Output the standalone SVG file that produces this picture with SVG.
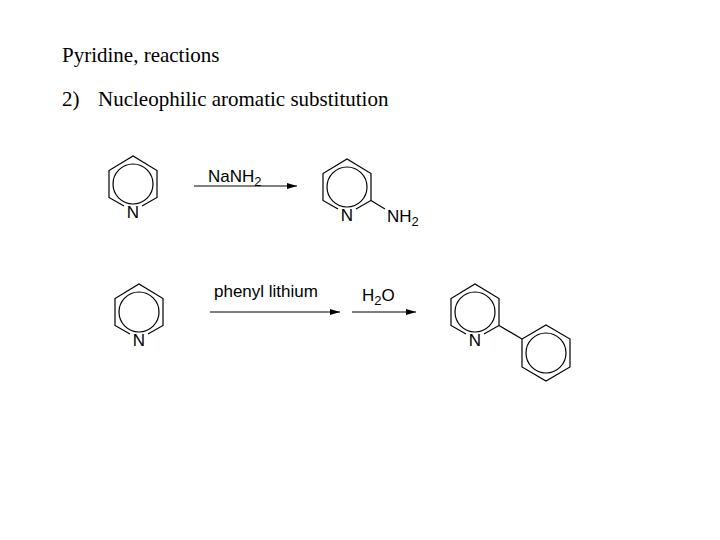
<svg xmlns="http://www.w3.org/2000/svg" width="720" height="540" viewBox="0 0 720 540">
<style>
.t{font-family:"Liberation Serif",serif;font-size:21px;fill:#000}
.l{font-family:"Liberation Sans",sans-serif;font-size:17px;fill:#000}
.b{fill:none;stroke:#000;stroke-width:1.2}
</style>
<defs>
<g id="pyr">
<path class="b" d="M-9,22 L-24,13.5 L-24,-13.5 L0,-28 L24,-13.5 L24,13.5 L9,22"/>
<circle class="b" cx="0" cy="0" r="20"/>
<text class="l" x="0" y="34" text-anchor="middle">N</text>
</g>
<g id="benz">
<path class="b" d="M0,-28 L24,-14 L24,14 L0,28 L-24,14 L-24,-14 Z"/>
<circle class="b" cx="0" cy="0" r="20"/>
</g>
<marker id="ah" markerWidth="10" markerHeight="6" refX="10" refY="3" orient="auto" markerUnits="userSpaceOnUse">
<path d="M0,0 L10,3 L0,6 Z" fill="#000"/>
</marker>
</defs>
<text class="t" x="62" y="62">Pyridine, reactions</text>
<text class="t" x="62" y="106">2)</text>
<text class="t" x="98" y="106">Nucleophilic aromatic substitution</text>
<g id="r1"><use href="#pyr" x="133" y="184"/></g>
<g id="p1"><use href="#pyr" x="347" y="187"/>
<line class="b" x1="371" y1="200.5" x2="385" y2="209"/>
<text class="l" x="387" y="222">NH<tspan font-size="13" dy="4">2</tspan></text></g>
<g id="r2"><use href="#pyr" x="139" y="312"/></g>
<g id="p2"><use href="#pyr" x="475" y="312"/>
<line class="b" x1="499" y1="325.5" x2="522" y2="339"/>
<use href="#benz" x="546" y="353"/></g>
<g id="connectors">
<line class="b" x1="194" y1="186" x2="297" y2="186" marker-end="url(#ah)"/>
<line class="b" x1="210" y1="312" x2="340" y2="312" marker-end="url(#ah)"/>
<line class="b" x1="352" y1="312" x2="416" y2="312" marker-end="url(#ah)"/>
</g>
<text class="l" x="208" y="182">NaNH<tspan font-size="13" dy="4">2</tspan></text>
<text class="l" x="214" y="297">phenyl lithium</text>
<text class="l" x="362" y="301">H<tspan font-size="13" dy="4">2</tspan><tspan dy="-4">O</tspan></text>
</svg>
